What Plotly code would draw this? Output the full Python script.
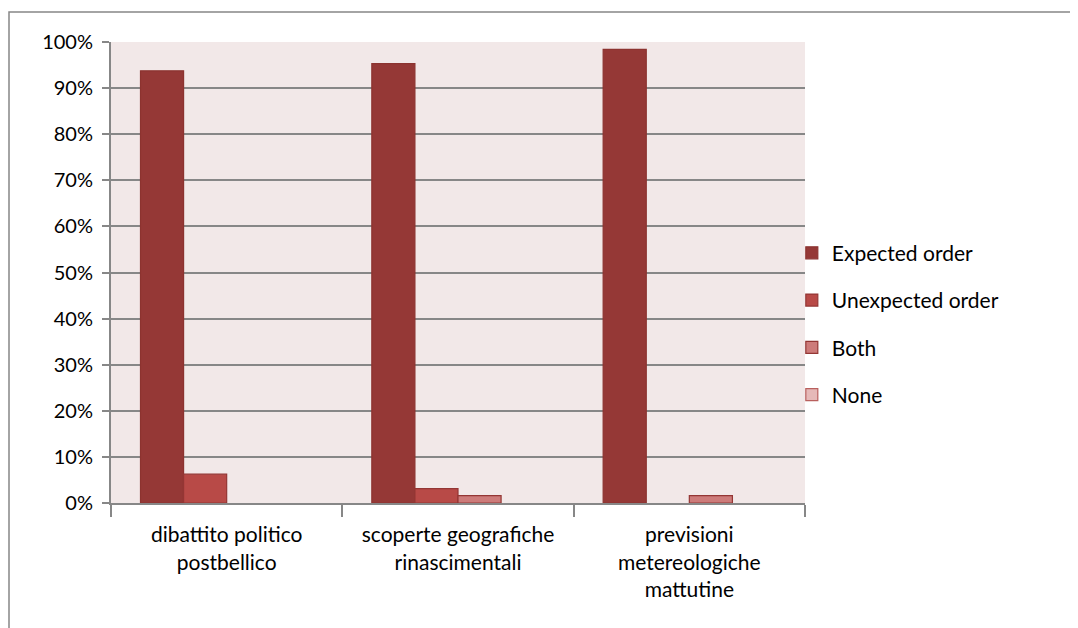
import plotly.graph_objects as go

categories = ["dibattito politico<br>postbellico",
              "scoperte geografiche<br>rinascimentali",
              "previsioni<br>metereologiche<br>mattutine"]
series_names = ["Expected order", "Unexpected order", "Both", "None"]
expected = [0.9375, 0.953, 0.984]
unexpected = [0.0625, 0.031, 0.0]
both = [0.0, 0.016, 0.016]
none = [0.0, 0.0, 0.0]
y_ticks = [0, 0.1, 0.2, 0.3, 0.4, 0.5, 0.6, 0.7, 0.8, 0.9, 1.0]
y_tick_labels = ["0%", "10%", "20%", "30%", "40%", "50%", "60%", "70%", "80%", "90%", "100%"]

fills = ["#953836", "#b84a47", "#cd7b7a", "#e6b9b8"]
borders = ["#8c3330", "#943634", "#943634", "#b9605e"]
values = [expected, unexpected, both, none]

font = "Lato, 'Open Sans', sans-serif"
fig = go.Figure()
for i, (name, vals) in enumerate(zip(series_names, values)):
    fig.add_trace(go.Bar(
        x=categories,
        y=[v if v > 0 else None for v in vals],  # zero-height bars draw nothing
        name=name,
        legendgroup=name,
        marker=dict(color=fills[i], line=dict(color=borders[i], width=1.2)),
    ))

# page body has an 8px margin; figure is offset by (8, 8)
W, H = 1070, 620
L, T = 103, 34
PW, PH = 694, 461
fig.update_layout(
    width=W, height=H,
    margin=dict(l=L, r=W - L - PW, t=T, b=H - T - PH, autoexpand=False),
    paper_bgcolor="white",
    plot_bgcolor="#f2e8e8",
    barmode="group",
    bargap=0.255,
    bargroupgap=0,
    font=dict(family=font, size=19, color="black"),
    legend=dict(
        x=0.981, xanchor="left", xref="paper",
        y=0.388, yanchor="middle",
        font=dict(size=21),
        tracegroupgap=17,
        itemwidth=30,
        bgcolor="rgba(0,0,0,0)",
    ),
    showlegend=True,
)
fig.update_yaxes(
    range=[0, 1.0],
    tickvals=y_ticks, ticktext=y_tick_labels,
    showgrid=True, gridcolor="#878787", gridwidth=2,
    showline=True, linecolor="#878787", linewidth=2,
    ticks="outside", ticklen=7, tickcolor="#878787", tickwidth=2,
    zeroline=False,
    ticklabelstandoff=5,
    tickfont=dict(size=20),
)
fig.update_xaxes(
    showline=True, linecolor="#878787", linewidth=2,
    ticks="outside", ticklen=12, tickcolor="#878787", tickwidth=2,
    tickson="boundaries",
    showgrid=False,
    ticklabelstandoff=12,
    tickfont=dict(size=21),
)
fig.add_shape(type="rect", xref="paper", yref="paper",
              x0=(1 - L) / PW, x1=(W + 5 - L) / PW,
              y0=(T + PH - (H + 5)) / PH, y1=(T + PH - 4) / PH,
              line=dict(color="#878787", width=1.5), fillcolor="rgba(0,0,0,0)",
              layer="below")

fig.write_html("out.html")
